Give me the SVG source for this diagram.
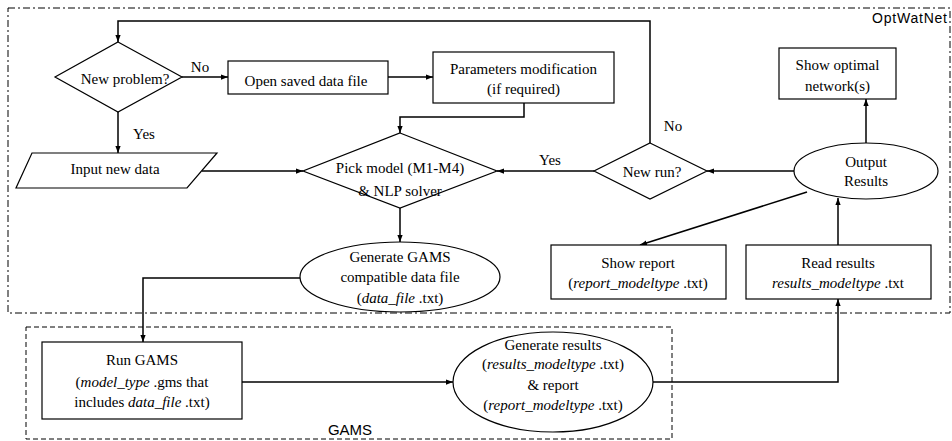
<svg xmlns="http://www.w3.org/2000/svg" width="952" height="441" viewBox="0 0 952 441">
<style>
.s{fill:#fff;stroke:#000;stroke-width:1.2}
.t{font-family:"Liberation Serif","Times New Roman",serif;font-size:15px;fill:#000;text-anchor:middle}
.i{font-style:italic}
.c{fill:none;stroke:#000;stroke-width:1.5}
.a{font-family:"Liberation Sans",Arial,sans-serif;fill:#000}
</style>
<defs>
<marker id="ar" viewBox="0 0 8 6" refX="8" refY="3" markerWidth="7" markerHeight="5.5" markerUnits="userSpaceOnUse" orient="auto">
<path d="M0,0 L8,3 L0,6 z" fill="#000"/>
</marker>
</defs>
<rect width="952" height="441" fill="#fff"/>
<g id="optwatnet-frame">
<rect x="8" y="8" width="942" height="305" fill="none" stroke="#000" stroke-width="1" stroke-dasharray="7,3,2,3"/>
<text class="a" x="947" y="23" font-size="14" text-anchor="end" textLength="75">OptWatNet</text>
</g>
<g id="gams-frame">
<rect x="26" y="327" width="646" height="112" fill="none" stroke="#000" stroke-width="1" stroke-dasharray="5,3"/>
<text class="a" x="350" y="435" font-size="15" text-anchor="middle">GAMS</text>
</g>
<g id="connectors">
<path class="c" d="M650,143 V21 H118 V42" marker-end="url(#ar)"/>
<path class="c" d="M182,77 H228" marker-end="url(#ar)"/>
<path class="c" d="M388,77 H433" marker-end="url(#ar)"/>
<path class="c" d="M524,103 V117 H400 V133" marker-end="url(#ar)"/>
<path class="c" d="M118,112 V153" marker-end="url(#ar)"/>
<path class="c" d="M202,171 H303" marker-end="url(#ar)"/>
<path class="c" d="M594,171 H497" marker-end="url(#ar)"/>
<path class="c" d="M794,171 H707" marker-end="url(#ar)"/>
<path class="c" d="M866,143 V99" marker-end="url(#ar)"/>
<path class="c" d="M838,245 V198" marker-end="url(#ar)"/>
<path class="c" d="M807,192 L640,245" marker-end="url(#ar)"/>
<path class="c" d="M400,208 V242" marker-end="url(#ar)"/>
<path class="c" d="M300,278 H143 V342" marker-end="url(#ar)"/>
<path class="c" d="M242,382 H453" marker-end="url(#ar)"/>
<path class="c" d="M653,382 H838 V299" marker-end="url(#ar)"/>
<text class="t" x="200" y="72">No</text>
<text class="t" x="144" y="139">Yes</text>
<text class="t" x="550" y="165">Yes</text>
<text class="t" x="673" y="131">No</text>
</g>
<g id="new-problem">
<polygon class="s" points="118,42 182,77 118,112 55,77"/>
<text class="t" x="125" y="84">New problem?</text>
</g>
<g id="open-saved">
<rect class="s" x="228" y="61" width="160" height="33"/>
<text class="t" x="306" y="86">Open saved data file</text>
</g>
<g id="params">
<rect class="s" x="433" y="52" width="181" height="51"/>
<text class="t" x="523.5" y="74">Parameters modification</text>
<text class="t" x="523.5" y="94">(if required)</text>
</g>
<g id="input-data">
<polygon class="s" points="32,153 217,153 187,188 16,188"/>
<text class="t" x="115" y="174">Input new data</text>
</g>
<g id="pick-model">
<polygon class="s" points="400,133 497,171 400,208 303,171"/>
<text class="t" x="400" y="173">Pick model (M1-M4)</text>
<text class="t" x="400" y="196">&amp; NLP solver</text>
</g>
<g id="new-run">
<polygon class="s" points="650,143 707,171 650,199 594,171"/>
<text class="t" x="652" y="177">New run?</text>
</g>
<g id="output-results">
<ellipse class="s" cx="866" cy="171" rx="72" ry="28"/>
<text class="t" x="866" y="167">Output</text>
<text class="t" x="866" y="186">Results</text>
</g>
<g id="show-optimal">
<rect class="s" x="779" y="48" width="117" height="51"/>
<text class="t" x="837.5" y="70">Show optimal</text>
<text class="t" x="837.5" y="91">network(s)</text>
</g>
<g id="show-report">
<rect class="s" x="551" y="245" width="175" height="54"/>
<text class="t" x="638" y="268">Show report</text>
<text class="t" x="638" y="288">(<tspan class="i">report_modeltype</tspan> .txt)</text>
</g>
<g id="read-results">
<rect class="s" x="746" y="245" width="185" height="54"/>
<text class="t" x="838" y="268">Read results</text>
<text class="t" x="838" y="288"><tspan class="i">results_modeltype</tspan> .txt</text>
</g>
<g id="generate-gams">
<ellipse class="s" cx="400" cy="277" rx="100" ry="35"/>
<text class="t" x="400" y="262">Generate GAMS</text>
<text class="t" x="400" y="282">compatible data file</text>
<text class="t" x="400" y="303">(<tspan class="i">data_file</tspan> .txt)</text>
</g>
<g id="run-gams">
<rect class="s" x="42" y="342" width="200" height="77"/>
<text class="t" x="142" y="365">Run GAMS</text>
<text class="t" x="142" y="387">(<tspan class="i">model_type</tspan> .gms that</text>
<text class="t" x="142" y="407">includes <tspan class="i">data_file</tspan> .txt)</text>
</g>
<g id="generate-results">
<ellipse class="s" cx="553" cy="382" rx="100" ry="50"/>
<text class="t" x="553" y="350">Generate results</text>
<text class="t" x="553" y="369">(<tspan class="i">results_modeltype</tspan> .txt)</text>
<text class="t" x="553" y="390">&amp; report</text>
<text class="t" x="553" y="410">(<tspan class="i">report_modeltype</tspan> .txt)</text>
</g>
</svg>
